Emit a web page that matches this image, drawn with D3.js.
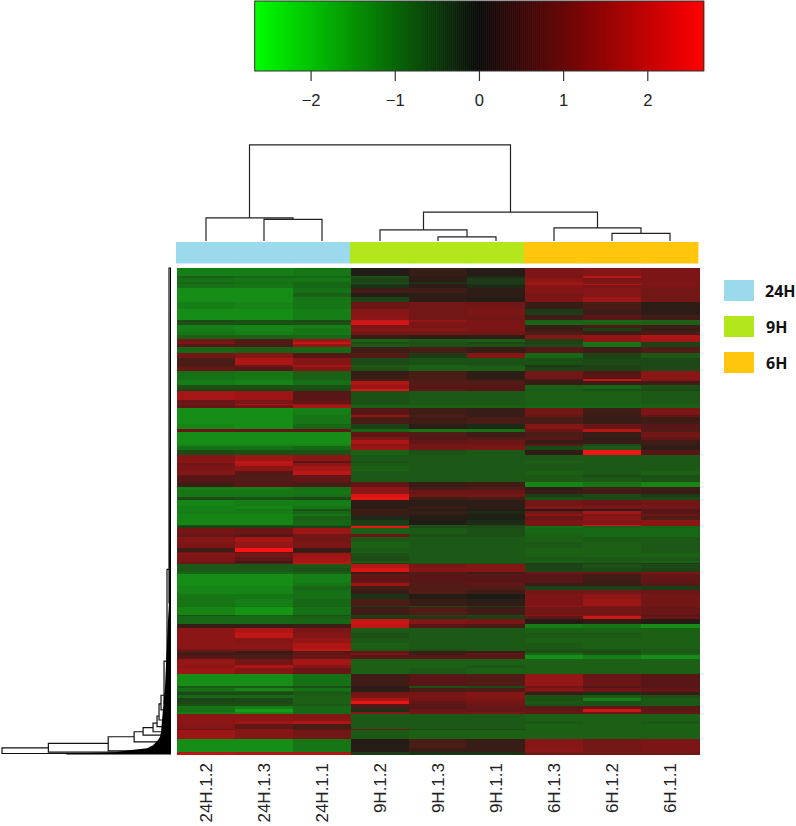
<!DOCTYPE html>
<html><head><meta charset="utf-8">
<script src="https://cdn.jsdelivr.net/npm/d3@7"></script>
<style>html,body{margin:0;padding:0;background:#fff}svg{display:block}</style>
</head><body><svg id="c" width="796" height="826"></svg>
<script>
// ---------- data ----------
const columnLabels=["24H.1.2","24H.1.3","24H.1.1","9H.1.2","9H.1.3","9H.1.1","6H.1.3","6H.1.2","6H.1.1"];
const columnGroups=["24H","24H","24H","9H","9H","9H","6H","6H","6H"];
const legendLabels=["24H","9H","6H"];
const legendColors=["#9bdaec","#b3e61b","#ffc60c"];
const scaleTicks=[-2,-1,0,1,2];
// each row: genes in the band, then the nine z-scores in column order
const bandRows=[
[25,-1.3,-1.3,-1.2,.05,.3,.1,1.1,1.2,1.1],
[5,-.9,-1,-1,-.7,.2,-.2,1.1,1.8,1.1],
[12,-1.1,-1.2,-1.2,-.5,.2,-.4,1.3,1.1,1.1],
[5,-1,-1.1,-1,-.6,-.3,-.4,1.5,1.2,1.1],
[3,-1.1,-1.2,-1,-.4,.2,-.3,1.6,1.7,1.2],
[10,-1.1,-1.2,-1,-.3,.2,-.2,1.2,1.1,1.1],
[15,-1.5,-1.5,-1.1,.4,.4,.2,1.2,1.2,1],
[12,-1.5,-1.5,-.9,.1,.2,.2,1.1,1.2,1],
[13,-1.5,-1.5,-1.2,-.5,.2,.1,1.1,1.5,1],
[20,-1.3,-1.4,-1.2,.9,1,1,.3,.5,.2],
[18,-1.5,-1.5,-1.3,1.2,1,1.1,-.4,.4,.2],
[17,-1.5,-1.5,-1.3,1.3,1,1,.4,.7,.4],
[5,-.6,-.7,-.6,2,1.4,1.1,-.9,-1,-.9],
[8,-.7,-.7,-.7,2.1,1.1,1.1,-1,-.9,-.9],
[10,-1.3,-1.4,-1.3,1.1,1.1,1.1,.4,.5,.4],
[10,-1.3,-1.4,-1.2,1.2,1.2,1.1,.3,-.5,.3],
[10,-1.2,-1.3,-1.2,1,1,1,.6,.4,.5],
[12,-.9,-.9,-1,.3,.2,.2,1.2,1.4,1.7],
[10,1,.6,1.5,-.9,-.8,-.9,-.5,1.3,1.6],
[6,1.1,.7,2,-.7,-.7,-.6,-.5,-1.2,-.5],
[9,.7,.5,1.4,-.8,-.7,-.7,-.6,-1.1,-.5],
[17,-1,-.9,-1,.4,.5,.3,.7,.4,.6],
[15,1,1.2,.7,.6,-.4,1.2,-1,-.5,-.8],
[20,.5,1.7,1.2,-.6,-.7,-.7,-.7,-.6,-.6],
[7,.6,1,1.6,-.8,-.9,-.8,-.4,-.5,-.6],
[11,.9,.7,1.2,-.7,-.9,-.9,-.5,-.5,-.6],
[23,-1.1,-1.2,-.9,.3,.5,.2,1,.7,1.3],
[8,-1.2,-1.3,-1,.5,.6,.4,.4,2,1.2],
[12,-1.3,-1.4,-1.1,1.7,.6,.6,.3,.4,.4],
[10,-.7,-.7,-.7,1.5,.7,.7,-.9,-1,-.7],
[7,-.5,-.5,-.6,2.2,.8,.7,-.8,-.7,-.6],
[25,1.6,1.5,.7,-.7,-.8,-.8,-.9,-.9,-.8],
[12,.9,1.1,.8,-.7,-.8,-.8,-.9,-.9,-.8],
[5,1,1.7,1.3,-.8,-.8,-.8,-.9,-.9,-.9],
[8,.8,1,1.7,-.9,-.9,-.9,-1,-1,-.9],
[20,-1.5,-1.5,-1.3,.7,.4,.3,1,.4,1.1],
[6,-1.5,-1.5,-1.2,1.4,.5,.3,.9,.3,.8],
[22,-1.5,-1.5,-1.2,.5,.4,.5,.5,.3,.4],
[15,-1.4,-1.5,-1,-.5,.2,-.2,1.2,.9,.7],
[7,.9,.8,.8,-1,-1.2,-1.1,.9,1.8,.6],
[15,-1.5,-1.5,-1.5,.8,.6,.4,.5,.3,1],
[10,-1.5,-1.5,-1.5,1.1,.7,.6,.7,.2,.8],
[10,-1.5,-1.5,-1.5,1.7,.8,.9,.3,.3,.4],
[8,-1.4,-1.4,-1.4,1.3,1,1,.6,-.6,.3],
[12,-1.1,-1.1,-1,1.5,1,1.1,-.6,-.8,.2],
[13,-.6,-.7,-.7,-.9,-.7,-.8,.2,2.5,.7],
[20,1.2,1.5,1.3,-.8,-.8,-.8,-.8,-.8,-.8],
[5,1.3,1.9,.7,-.7,-.8,-.8,-.9,-.8,-.8],
[8,1,1.8,1.3,-.8,-.8,-.8,-.8,-.8,-.8],
[14,1.1,1.3,1.6,-.9,-.8,-.8,-.8,-.8,-.8],
[12,1.2,.7,1.9,-.8,-.8,-.8,-.9,-.8,-.9],
[6,.7,.6,.8,-.8,-.8,-.8,-.8,-.6,-.7],
[15,.7,.6,.8,-.8,-.8,-.8,-.8,-.8,-.7],
[17,.4,.7,.5,.8,.3,.4,-1.4,-1.2,-1.4],
[8,-1.3,-1.3,-1.1,1.3,.5,.6,.2,.5,.4],
[12,-1.2,-1.2,-1.2,1.3,.9,.9,.3,.4,.3],
[8,-1.2,-1.2,-1.1,2.2,1,1,-.4,-.6,-.4],
[10,-.6,-.7,-.6,2.4,.4,.5,-.7,-.6,-.6],
[18,-1.4,-1.3,-1.3,.2,.2,.2,1,.9,1],
[9,-1.3,-1.4,-1.2,.2,.3,.2,1.2,1.1,1],
[4,-1.3,-1.2,-.7,.4,.2,.1,.1,.2,.7],
[9,-1.3,-1.3,-1,.3,.3,-.2,1,1.6,.7],
[8,-1.4,-1.4,-1.2,.3,.2,.1,1.3,1.1,.9],
[10,-1.4,-1.4,-.9,-.2,.1,-.1,.9,1.3,.6],
[15,-1.4,-1.4,-1,-.4,.05,-.2,1.1,1.2,1.3],
[3,-.7,-.7,-.8,-.6,-.8,-.6,1,2.1,1.2],
[6,-.5,-.5,-.5,2.4,-.6,-.6,-1.1,-.9,-1],
[18,1,.9,1.5,-.9,-.8,-.7,-1,-1,-1],
[10,.9,.7,1,.9,-.7,-.7,-.9,-1,-1],
[15,1.2,1.6,1,-.8,-.8,-.8,-.9,-.8,-.8],
[15,1.1,1.4,1.1,-.9,-.8,-.8,-.8,-.9,-.8],
[12,.4,2.6,.3,-.8,-.8,-.8,-.9,-.9,-.8],
[4,.9,.7,.5,-.9,-.8,-.8,-1,-.9,-.8],
[12,1.2,1,1.5,-.7,-.8,-.8,-.9,-.9,-.9],
[12,1.1,.8,1.6,-.6,-.8,-.8,-.8,-.8,-.8],
[6,1,.3,1.7,-.8,-.8,-.8,-.9,-.8,-.9],
[4,.9,.9,1.9,-.5,-.7,-.7,-.4,-.5,-.4],
[11,-.8,-.8,-.8,1.8,1.1,1.2,-.5,-.7,-.6],
[11,-.8,-.8,-.7,2.2,1.2,1.2,-.5,-.6,-.5],
[5,-1,-1,-.9,.4,.6,.4,.9,.9,1.1],
[28,-1.5,-1.5,-1.3,.8,.7,.7,.7,.4,.8],
[10,-1.5,-1.5,-1.2,1.5,.6,.8,.3,.3,.6],
[12,-1.4,-1.4,-1,.5,.6,.6,-.5,-.5,-.4],
[11,-1.4,-1.4,-1.1,.3,.6,.4,1,1,.9],
[15,-1.2,-1.2,-1.1,-.3,.1,0,1.1,1.3,1],
[20,-1.2,-1.3,-1,.5,.3,.2,1.1,1.5,1],
[3,-1.1,-1.2,-.9,-.4,-.6,-.4,1.3,1.1,1],
[23,-1.4,-1.6,-1.1,.4,.6,.4,1,1,.9],
[5,-.7,-.8,-.7,-.5,-.5,-.6,1.2,1.2,.7],
[9,-1,-1,-.9,-.4,-.4,-.5,.8,2.1,.9],
[13,-1,-1,-1,2,1.2,1.1,.1,.2,.1],
[13,.3,.3,.4,1.9,.7,.5,-1.3,-1.2,-1.5],
[14,1.3,1.7,1.1,-.8,-.8,-.8,-.9,-.9,-.9],
[14,1.3,1.9,1.2,-.7,-.8,-.8,-.8,-.8,-.9],
[16,1.3,1.2,1.4,-.8,-.8,-.8,-.9,-.9,-.9],
[18,1.3,1.3,1.7,-.9,-.8,-.8,-.8,-.9,-.9],
[5,1,1.1,2,-.8,-.7,-.8,-.7,-.7,-.8],
[7,.6,.3,.6,.8,.3,.3,-.7,-.6,-.8],
[4,.4,.4,.8,1.1,.4,.8,-1,-.7,-.9],
[14,.7,.5,.9,.7,.7,.7,-1.5,-1.3,-1.5],
[16,1.4,1,1.6,-.9,-.9,-.9,-.9,-.9,-.9],
[11,1.3,1.7,1.2,-.9,-.9,-.8,-.9,-.9,-.9],
[18,1.5,1.2,.9,-.9,-.8,-.9,-.9,-.9,-.9],
[35,-1.5,-1.5,-1.1,.4,.7,.6,1.4,.9,.7],
[5,-.8,-.8,-.7,.2,-.7,-.6,1,.7,.7],
[8,-1.1,-1.4,-1.1,.2,.5,.5,1.2,1,.8],
[4,-.9,-.9,-.9,.2,.5,.6,1,.9,.8],
[9,-.6,-.6,-.8,1,1,1.2,.3,-.3,.3],
[9,-1,-1,-.9,1.1,1.1,1.2,-.7,-.8,-.7],
[9,-.5,-.6,-.9,1.6,1,1.1,-.7,-1.3,-.8],
[8,-.6,-.6,-.9,2.4,.8,1,-.8,-.7,-.8],
[6,-.7,-.7,-.8,.7,.7,.9,-.7,-.7,-.8],
[9,-1.2,-1.3,-1,.5,.7,.9,.6,.8,.6],
[9,-1.1,-1.7,-1,-.3,.9,.8,.8,2.1,.8],
[7,-1.3,-1.4,-1,1.3,1,1.1,.8,.9,.8],
[20,1.3,1.3,1.2,-.8,-.8,-.8,-.9,-.9,-.9],
[10,1.3,1.5,1.7,-.8,-.8,-.8,-.8,-.9,-.8],
[12,1.2,.8,.5,-.8,-.8,-.8,-.9,-.9,-.9],
[5,.9,1.2,.6,1,-.6,-.6,-.9,-.9,-.9],
[25,1.5,1.2,1,-.8,-.9,-.9,-.9,-.9,-.9],
[28,-1.5,-1.5,-1.2,.1,.5,.3,1.2,1,1.1],
[12,-1.5,-1.5,-1.2,.1,.3,.3,1.3,1,1.1],
[7,1.8,1.7,1.7,-.4,-.3,-.3,1,1,1]
];
// column tree: leaves are indices into columnLabels, h is merge height
const columnTree={h:100,c:[
  {h:24,c:[{l:0},{h:22.5,c:[{l:1},{l:2}]}]},
  {h:30,c:[
    {h:11.6,c:[{l:3},{h:4.2,c:[{l:4},{l:5}]}]},
    {h:13.6,c:[{l:6},{h:8,c:[{l:7},{l:8}]}]}
  ]}
]};
// row tree ladder, outermost first: merge height, gene rank of upper child, gene rank of lower child
const rowMergeHeights=[169.5,123,63,37,28,18,14,12,10,7,4,2];
const rowMergeUpper=[1433,1420,1400,1385,1373,1359,1338,1302,1276,1174,900,0];
const rowMergeLower=[1450,1446,1442,1415,1395,1385,1370,1350,1320,1300,1200,1000];
// dense leaf clusters: gene rank and how far the comb of merges reaches
const combRank=[0,1000,1051,1150,1251,1350,1385,1400,1410,1425,1434,1440,1446,1450,1453];
const combHeight=[1,2,3,4.5,6,9,10,11,13,18,24,42,56,105,105];

// ---------- setup ----------
const svg=d3.select("#c");
const defs=svg.append("defs");
defs.append("filter").attr("id","soft").attr("x","-2%").attr("y","-2%").attr("width","104%").attr("height","104%")
  .append("feGaussianBlur").attr("stdDeviation","0.45");
const totalGenes=d3.sum(bandRows,d=>d[0]);
const xCol=d3.scaleBand().domain(d3.range(columnLabels.length)).range([177,699]);
const yGene=d3.scaleLinear().domain([0,totalGenes]).range([268,754.5]);
const yRank=d3.scaleLinear().domain([0,1453]).range([268,754.5]);
const heat=d3.scaleLinear().domain([-2.66,0,2.66]).range(["rgb(18,228,18)","rgb(30,28,22)","rgb(255,18,18)"]);
const ramp=d3.scaleLinear().domain([-2.664,0,2.67]).range(["#00ff00","#0c0a0a","#ff0000"]);

// ---------- colour key ----------
const xKey=d3.scaleLinear().domain([-2.664,2.67]).range([254.7,703.7]);
const keySteps=d3.range(225);
const keyStep=(xKey.domain()[1]-xKey.domain()[0])/keySteps.length;
const gKey=svg.append("g");
gKey.selectAll("rect").data(keySteps).join("rect")
  .attr("x",i=>xKey(xKey.domain()[0]+i*keyStep))
  .attr("width",i=>xKey(xKey.domain()[0]+(i+1)*keyStep)-xKey(xKey.domain()[0]+i*keyStep)+.6)
  .attr("y",1).attr("height",70)
  .attr("fill",i=>ramp(xKey.domain()[0]+(i+.5)*keyStep));
gKey.append("rect").attr("x",254.7).attr("y",1).attr("width",449).attr("height",70)
  .attr("fill","none").attr("stroke","#333").attr("stroke-width",1);
const axis=d3.axisBottom(xKey).tickValues(scaleTicks).tickSize(10).tickSizeOuter(0).tickPadding(13)
  .tickFormat(d=>d<0?"\u2212"+(-d):String(d));
const gAx=svg.append("g").attr("transform","translate(0,71)").call(axis);
gAx.select(".domain").remove();
gAx.selectAll("line").attr("stroke","#333").attr("stroke-width",1.2);
gAx.selectAll("text").attr("font-family","'Liberation Sans',sans-serif").attr("font-size",16.5).attr("fill","#222");

// ---------- column tree ----------
const yTree=d3.scaleLinear().domain([0,100]).range([241,144.8]);
const pathGen=d3.path();
function walk(n){
  if(n.l!==undefined) return {x:xCol(n.l)+xCol.bandwidth()/2,y:yTree(0)};
  const kids=n.c.map(walk);
  const y=yTree(n.h);
  pathGen.moveTo(kids[0].x,kids[0].y);pathGen.lineTo(kids[0].x,y);
  pathGen.lineTo(kids[1].x,y);pathGen.lineTo(kids[1].x,kids[1].y);
  return {x:(kids[0].x+kids[1].x)/2,y};
}
walk(columnTree);
svg.append("path").attr("d",pathGen.toString()).attr("fill","none").attr("stroke","#222").attr("stroke-width",1.2);

// ---------- group strip ----------
const groupColor=d3.scaleOrdinal().domain(legendLabels).range(legendColors);
svg.append("g").selectAll("rect").data(columnGroups).join("rect")
  .attr("x",(d,i)=>xCol(i)-1).attr("width",xCol.bandwidth()+.4)
  .attr("y",242).attr("height",21.5).attr("fill",d=>groupColor(d));

// ---------- heat map ----------
let rank=0;
const cells=[];
bandRows.forEach(r=>{
  r.slice(1).forEach((v,j)=>cells.push({j,v,start:rank,end:rank+r[0]}));
  rank+=r[0];
});
svg.append("g").attr("filter","url(#soft)").selectAll("rect").data(cells).join("rect")
  .attr("x",d=>xCol(d.j)).attr("width",xCol.bandwidth()+.5)
  .attr("y",d=>yGene(d.start)).attr("height",d=>yGene(d.end)-yGene(d.start)+.5)
  .attr("fill",d=>heat(d.v)).attr("shape-rendering","crispEdges");

// ---------- row tree ----------
const xRow=d3.scaleLinear().domain([0,170]).range([171,1.5]);
const gRow=svg.append("g").attr("fill","none").attr("stroke","#111").attr("stroke-width",1.2);
rowMergeHeights.forEach((h,i)=>{
  const p=d3.path();
  const nextH=i+1<rowMergeHeights.length?rowMergeHeights[i+1]:0;
  p.moveTo(xRow(nextH),yRank(rowMergeUpper[i]));
  p.lineTo(xRow(h),yRank(rowMergeUpper[i]));
  p.lineTo(xRow(h),yRank(rowMergeLower[i]));
  p.lineTo(xRow(0),yRank(rowMergeLower[i]));
  gRow.append("path").attr("d",p.toString());
});
const comb=d3.area().y(d=>yRank(d[0])).x0(xRow(0)).x1(d=>xRow(d[1])).curve(d3.curveLinear);
svg.append("path").attr("d",comb(d3.zip(combRank,combHeight))).attr("fill","#000");

// ---------- column labels ----------
svg.append("g").selectAll("text").data(columnLabels).join("text")
  .attr("transform",(d,i)=>`translate(${xCol(i)+xCol.bandwidth()/2+6},763) rotate(-90)`)
  .attr("text-anchor","end").attr("font-family","'Liberation Sans',sans-serif")
  .attr("font-size",17).attr("fill","#222").text(d=>d);

// ---------- legend ----------
const yLegend=d3.scalePoint().domain(legendLabels).range([280,352]);
const gLeg=svg.append("g");
gLeg.selectAll("rect").data(legendLabels).join("rect")
  .attr("x",724).attr("width",30).attr("y",d=>yLegend(d)).attr("height",21)
  .attr("fill",d=>groupColor(d));
gLeg.selectAll("text").data(legendLabels).join("text")
  .attr("x",d=>d==="24H"?765:766).attr("y",d=>yLegend(d)+16.5)
  .attr("font-family","'Open Sans',sans-serif").attr("font-weight",700).attr("font-size",16)
  .attr("fill","#111").text(d=>d);
</script></body></html>
